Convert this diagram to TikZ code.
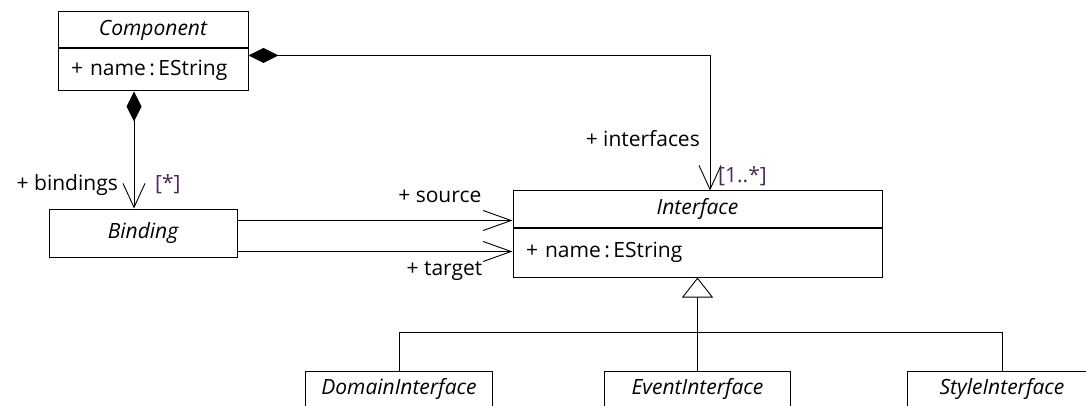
\documentclass[tikz,border=0pt]{standalone}
\usepackage{fontspec}
\setmainfont{Open Sans}
\usepackage{tikz}
\usetikzlibrary{arrows.meta}
\usetikzlibrary{positioning}

\frenchspacing
\definecolor{multcol}{RGB}{75,40,95}
\tikzset{
	classhead/.style={draw, fill=white, line width=1pt, inner sep=0pt, minimum height=36pt, font=\fontsize{21}{24}\selectfont\itshape},
	classattr/.style={draw, fill=white, line width=1pt, inner xsep=13pt, inner ysep=0pt, align=left, font=\fontsize{21}{24}\selectfont},
	edgelabel/.style={inner sep=0pt, font=\fontsize{21}{24}\selectfont},
	multlabel/.style={edgelabel, text=multcol},
	compos/.style={line width=0.9pt, {Diamond[length=30pt,width=15pt]}-{Straight Barb[length=24pt,width=22pt]}},
	assoc/.style={line width=0.9pt, -{Straight Barb[length=28pt,width=20pt]}},
	generaliz/.style={line width=0.9pt, -{Triangle[open, length=20pt, width=31pt, fill=white]}}
}

\begin{document}
\begin{tikzpicture}[x=1pt, y=-1pt]
	\useasboundingbox (0,0) rectangle (1086,406);
	\clip (0,0) rectangle (1086,406);
	
	% classes
	\node[classhead, minimum width=190pt] (comp) at (153,30) {Component};
	\node[classattr, text width=164pt, minimum height=42pt, below=0pt of comp] (compattr) {+ name\,:\,EString};
	
	\node[classhead, minimum width=188pt, minimum height=48pt] (bind) at (143,233) {Binding};
	
	\node[classhead, minimum width=369pt] (iface) at (697.5,209) {Interface};
	\node[classattr, text width=343pt, minimum height=49pt, below=0pt of iface] (ifaceattr) {+ name\,:\,EString};
	
	\node[classhead, minimum width=187pt] (dom) at (399,389) {DomainInterface};
	\node[classhead, minimum width=186pt] (event) at (697.5,389) {EventInterface};
	\node[classhead, minimum width=190pt] (style) at (1002,389) {StyleInterface};
	
	% containment
	\draw[compos] ([xshift=-19pt]compattr.south) -- ([xshift=-9pt]bind.north);
	\node[edgelabel, anchor=base east] (lblbind) at ([xshift=-25pt, yshift=18pt]bind.north) {+ bindings};
	\node[multlabel, anchor=base west] (multbind) at ([xshift=12pt, yshift=18pt]bind.north) {[*]};
	
	\draw[compos] ([yshift=-7pt]compattr.north east) -| ([xshift=12.5pt]iface.north);
	\node[edgelabel, anchor=base east] (lblifc) at ([xshift=2.5pt, yshift=44pt]iface.north) {+ interfaces};
	\node[multlabel, anchor=base west] (multifc) at ([xshift=20.5pt, yshift=8pt]iface.north) {[1..*]};
	
	% references
	\coordinate (srcpt) at ([yshift=-12pt]bind.north east);
	\coordinate (tgtpt) at ([yshift=6pt]bind.south east);
	\draw[assoc] (srcpt) -- (srcpt -| iface.west);
	\draw[assoc] (tgtpt) -- (tgtpt -| iface.west);
	\node[edgelabel, anchor=base east] (lblsrc) at ([xshift=-31pt, yshift=7pt]iface.west) {+ source};
	\node[edgelabel, anchor=base east] (lbltgt) at ([xshift=-30pt, yshift=-22.5pt]ifaceattr.west) {+ target};
	
	% inheritance
	\coordinate (bus) at (697.5,332);
	\draw[generaliz] (event.north) -- (ifaceattr.south);
	\draw[line width=0.9pt] (dom.north) |- (bus);
	\draw[line width=0.9pt] (style.north) |- (bus);
\end{tikzpicture}
\end{document}
